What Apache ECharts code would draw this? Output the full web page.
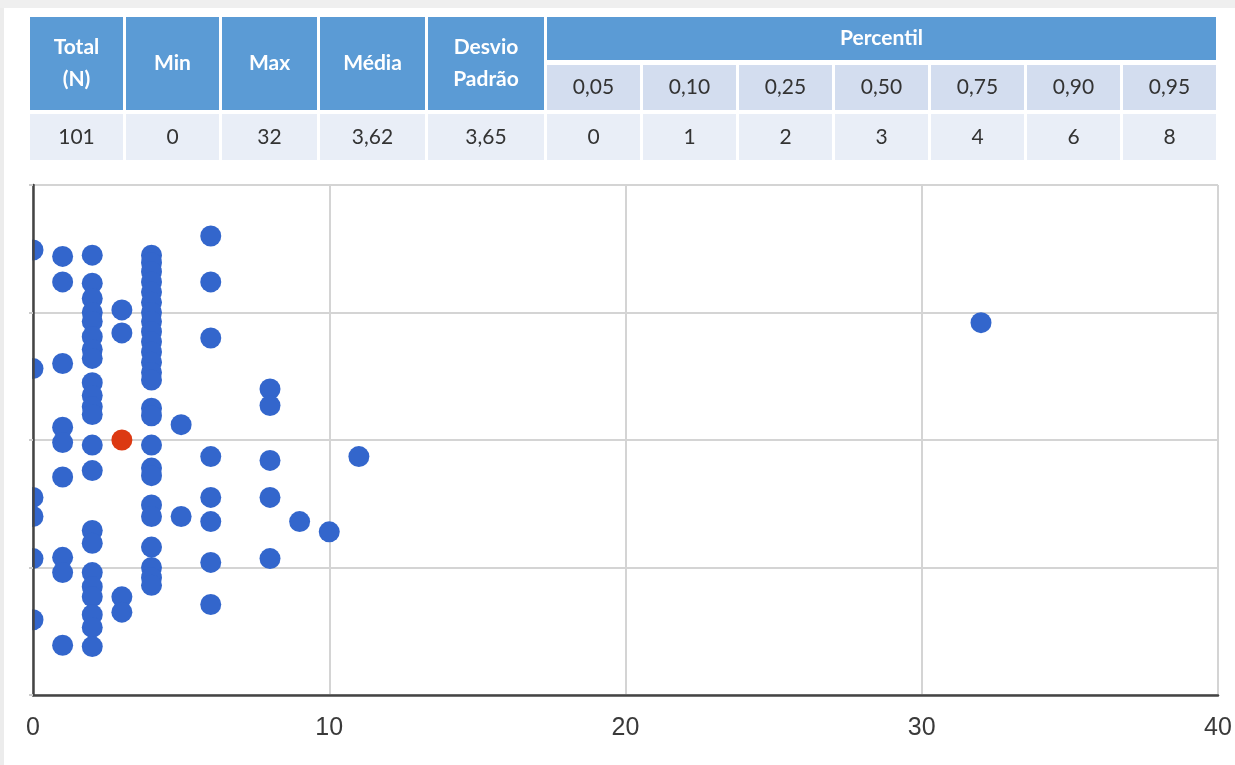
<!DOCTYPE html>
<html>
<head>
<meta charset="utf-8">
<script src="https://cdn.jsdelivr.net/npm/echarts@6/dist/echarts.min.js"></script>
<style>
html,body{margin:0;padding:0;background:#fff;}
#chart{width:1235px;height:765px;}
</style>
</head>
<body>
<div id="chart"></div>
<script>
// ---- table data ----
var statHeaders = ['Total\n(N)', 'Min', 'Max', 'Média', 'Desvio\nPadrão'];
var statValues = ['101', '0', '32', '3,62', '3,65'];
var percentilTitle = 'Percentil';
var percentilLabels = ['0,05', '0,10', '0,25', '0,50', '0,75', '0,90', '0,95'];
var percentilValues = ['0', '1', '2', '3', '4', '6', '8'];

// ---- scatter data (x = value, y = vertical jitter) ----
var xTicks = [0, 10, 20, 30, 40];
var pointsX = [
  0,0,0,0,0,0,
  1,1,1,1,1,1,1,1,1,
  2,2,2,2,2,2,2,2,2,2,2,2,2,2,2,2,2,2,2,2,2,2,
  3,3,3,3,
  4,4,4,4,4,4,4,4,4,4,4,4,4,4,4,4,4,4,4,4,4,4,4,4,4,
  5,5,
  6,6,6,6,6,6,6,6,
  8,8,8,8,8,
  9,10,11,32
];
var pointsY = [
  3.49,2.56,1.55,1.40,1.07,0.59,
  3.44,3.24,2.60,2.10,1.98,1.71,1.08,0.96,0.39,
  3.45,3.23,3.11,3.00,2.93,2.81,2.71,2.64,2.45,2.35,2.26,2.20,1.96,1.76,1.29,1.19,0.96,0.85,0.77,0.63,0.53,0.38,
  3.02,2.84,0.77,0.65,
  3.45,3.39,3.32,3.24,3.16,3.08,3.00,2.93,2.85,2.77,2.69,2.61,2.53,2.47,2.25,2.19,1.96,1.78,1.72,1.49,1.40,1.16,1.00,0.92,0.86,
  2.12,1.40,
  3.60,3.24,2.80,1.87,1.55,1.36,1.04,0.71,
  2.40,2.27,1.84,1.55,1.07,
  1.36,1.28,1.87,2.92
];
var highlightX = [3];
var highlightY = [2.00];

// ---- layout ----
var W = 1235, H = 765;
var gridL = 33, gridT = 185, gridR = 17, gridB = 70;
var tableLeft = 30;
var statWidths = [96, 96, 98, 108, 119];
var pctWidth = 96;
var gap = 3;
var row1Top = 17, row1H = 43;
var row2Top = 65, row2H = 45;
var row3Top = 114, row3H = 46;
var headBlue = '#5B9BD5';
var subBlue = '#D3DDEF';
var dataBlue = '#E9EEF7';
var font = 'Lato, "Open Sans", "Liberation Sans", sans-serif';

var graphics = [];
graphics.push({type:'rect', shape:{x:0,y:0,width:W,height:8}, style:{fill:'#efefef'}, z:0, silent:true});
graphics.push({type:'rect', shape:{x:0,y:8,width:4,height:H-8}, style:{fill:'#ececec'}, z:0, silent:true});

function cell(x, y, w, h, fill, text, color, bold, size) {
  graphics.push({
    type:'rect', shape:{x:x, y:y, width:w, height:h}, style:{fill:fill}, z:1, silent:true
  });
  graphics.push({
    type:'text', x:x + w/2, y:y + h/2, z:2, silent:true,
    style:{text:text, fill:color, font:(bold?'bold ':'') + size + 'px ' + font,
      textAlign:'center', textVerticalAlign:'middle', lineHeight: 32}
  });
}
var cx = tableLeft;
for (var i = 0; i < statHeaders.length; i++) {
  var w = statWidths[i] - gap;
  cell(cx, row1Top, w, row2Top + row2H - row1Top, headBlue, statHeaders[i], '#ffffff', true, 21);
  cell(cx, row3Top, w, row3H, dataBlue, statValues[i], '#333333', false, 21);
  cx += statWidths[i];
}
var pctLeft = cx;
var pctTotal = pctWidth * percentilLabels.length - gap;
cell(pctLeft, row1Top, pctTotal, row1H, headBlue, percentilTitle, '#ffffff', true, 21);
for (var j = 0; j < percentilLabels.length; j++) {
  var px = pctLeft + j * pctWidth;
  cell(px, row2Top, pctWidth - gap, row2H, subBlue, percentilLabels[j], '#333333', false, 21);
  cell(px, row3Top, pctWidth - gap, row3H, dataBlue, percentilValues[j], '#333333', false, 21);
}
// white mask to clip half dots left of the y axis
graphics.push({type:'rect', shape:{x:5, y:gridT - 12, width:gridL - 6, height:H - gridB - gridT + 24}, style:{fill:'#ffffff'}, z:5, silent:true});

var mainData = pointsX.map(function(x, k){ return [x, pointsY[k]]; });
var hiData = highlightX.map(function(x, k){ return [x, highlightY[k]]; });

var chart = echarts.init(document.getElementById('chart'), null, {renderer:'canvas'});
chart.setOption({
  animation: false,
  backgroundColor: '#ffffff',
  grid: {left: gridL, top: gridT, right: gridR, bottom: gridB, containLabel: false},
  xAxis: [{
    type:'value', min: xTicks[0], max: xTicks[xTicks.length-1], interval: xTicks[1]-xTicks[0], z:0,
    axisLine:{show:false}, axisTick:{show:false},
    axisLabel:{show:true, fontSize:25, color:'#3a3a3a', margin:21, fontFamily:'"Liberation Sans", Arial, sans-serif'},
    splitLine:{show:true, lineStyle:{color:'#d4d4d4', width:2}}
  },{
    type:'value', min: xTicks[0], max: xTicks[xTicks.length-1], interval: xTicks[1]-xTicks[0], z:10,
    position:'bottom',
    axisLine:{show:true, lineStyle:{color:'#444', width:2.5}}, axisTick:{show:false},
    axisLabel:{show:false}, splitLine:{show:false}
  }],
  yAxis: [{
    type:'value', min:0, max:4, interval:1, z:0,
    axisLine:{show:false}, axisLabel:{show:false},
    axisTick:{show:false},
    splitLine:{show:true, lineStyle:{color:'#d4d4d4', width:2}}
  },{
    type:'value', min:0, max:4, interval:1, z:10, position:'left',
    axisLine:{show:true, lineStyle:{color:'#444', width:2.5}}, axisLabel:{show:false},
    axisTick:{show:true, length:4, lineStyle:{color:'#cccccc', width:2}},
    splitLine:{show:false}
  }],
  graphic: graphics,
  series: [{
    type:'scatter', xAxisIndex:0, yAxisIndex:0, z:2,
    symbol:'circle', symbolSize:21,
    itemStyle:{color:'#3366CC', opacity:1},
    data: mainData
  },{
    type:'scatter', xAxisIndex:0, yAxisIndex:0, z:3,
    symbol:'circle', symbolSize:21,
    itemStyle:{color:'#DC3912', opacity:1},
    data: hiData
  }]
});
</script>
</body>
</html>
